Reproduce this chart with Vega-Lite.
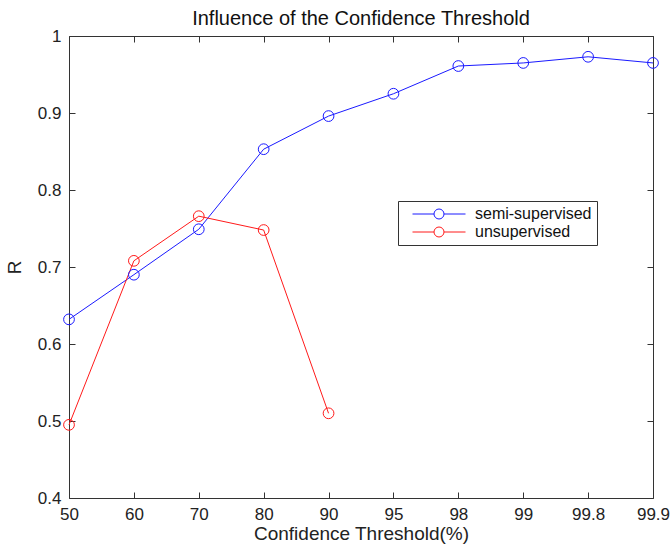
{
  "$schema": "https://vega.github.io/schema/vega-lite/v6.json",
  "width": 584,
  "height": 462,
  "autosize": "none",
  "padding": {"left": 69, "top": 36, "right": 18, "bottom": 47},
  "background": "white",
  "config": {
    "font": "Liberation Sans",
    "view": {"stroke": "#333333", "strokeWidth": 1},
    "axis": {"grid": false, "domain": false, "tickColor": "#333333", "tickSize": -6, "labelColor": "#222222", "titleColor": "#222222", "labelFontSize": 17, "titleFontSize": 19, "titleFontWeight": "normal"},
    "title": {"fontSize": 20, "fontWeight": "normal", "color": "#111111"}
  },
  "title": {"text": "Influence of the Confidence Threshold", "anchor": "middle", "frame": "group", "offset": -2},
  "data": {
    "values": [
      {"t": "50", "R": 0.632, "series": "semi-supervised"},
      {"t": "60", "R": 0.690, "series": "semi-supervised"},
      {"t": "70", "R": 0.749, "series": "semi-supervised"},
      {"t": "80", "R": 0.853, "series": "semi-supervised"},
      {"t": "90", "R": 0.896, "series": "semi-supervised"},
      {"t": "95", "R": 0.925, "series": "semi-supervised"},
      {"t": "98", "R": 0.961, "series": "semi-supervised"},
      {"t": "99", "R": 0.965, "series": "semi-supervised"},
      {"t": "99.8", "R": 0.973, "series": "semi-supervised"},
      {"t": "99.9", "R": 0.965, "series": "semi-supervised"},
      {"t": "50", "R": 0.495, "series": "unsupervised"},
      {"t": "60", "R": 0.708, "series": "unsupervised"},
      {"t": "70", "R": 0.766, "series": "unsupervised"},
      {"t": "80", "R": 0.748, "series": "unsupervised"},
      {"t": "90", "R": 0.510, "series": "unsupervised"}
    ]
  },
  "layer": [
    {
      "mark": {"type": "line", "strokeWidth": 1},
      "encoding": {
        "x": {"field": "t", "type": "ordinal", "scale": {"type": "point", "padding": 0, "domain": ["50","60","70","80","90","95","98","99","99.8","99.9"]}, "axis": {"orient": "bottom", "labelAngle": 0, "labelPadding": 14, "title": "Confidence Threshold(%)", "titlePadding": 2}},
        "y": {"field": "R", "type": "quantitative", "scale": {"domain": [0.4, 1], "nice": false, "zero": false}, "axis": {"orient": "left", "values": [0.4,0.5,0.6,0.7,0.8,0.9,1], "format": "~g", "labelPadding": 14, "title": "R", "titlePadding": 13}},
        "color": {"field": "series", "type": "nominal", "scale": {"domain": ["semi-supervised", "unsupervised"], "range": ["#1a1aff", "#ff1a1a"]},
          "legend": {"title": null, "orient": "none", "legendX": 329, "legendY": 165, "strokeColor": "#333333", "fillColor": "white", "padding": 5, "rowPadding": 2, "labelFontSize": 16, "labelColor": "#111111", "symbolType": "M-5.3,0H-1M1,0H5.3M1,0A1,1,0,1,1,-1,0A1,1,0,1,1,1,0", "symbolSize": 100, "symbolStrokeWidth": 1, "symbolFillColor": "transparent", "symbolOffset": 28, "labelOffset": 28}}
      }
    },
    {
      "mark": {"type": "point", "shape": "circle", "filled": false, "size": 115, "strokeWidth": 1, "opacity": 1},
      "encoding": {
        "x": {"field": "t", "type": "ordinal", "axis": {"orient": "top", "labels": false, "title": null}},
        "y": {"field": "R", "type": "quantitative", "axis": {"orient": "right", "values": [0.4,0.5,0.6,0.7,0.8,0.9,1], "labels": false, "title": null}},
        "color": {"field": "series", "type": "nominal",
          "legend": {"title": null, "orient": "none", "legendX": 329, "legendY": 165, "strokeColor": "#333333", "fillColor": "white", "padding": 5, "rowPadding": 2, "labelFontSize": 16, "labelColor": "#111111", "symbolType": "M-5.3,0H-1M1,0H5.3M1,0A1,1,0,1,1,-1,0A1,1,0,1,1,1,0", "symbolSize": 100, "symbolStrokeWidth": 1, "symbolFillColor": "transparent", "symbolOffset": 28, "labelOffset": 28}}
      }
    }
  ],
  "resolve": {"axis": {"x": "independent", "y": "independent"}}
}
